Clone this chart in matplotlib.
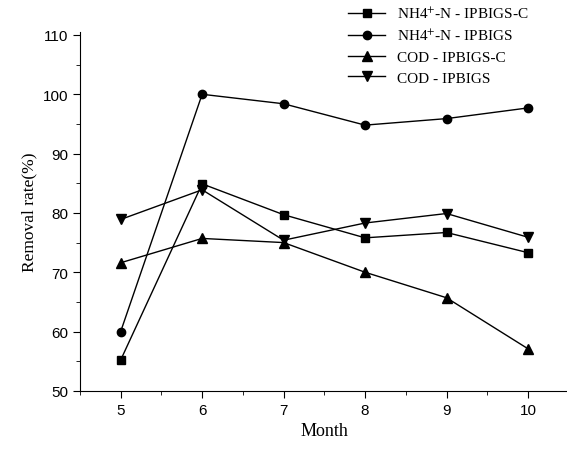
import matplotlib
matplotlib.use("Agg")
import matplotlib.pyplot as plt
from matplotlib.ticker import MultipleLocator

months = [5, 6, 7, 8, 9, 10]
nh4_ipbigs_c = [55.2, 84.9, 79.7, 75.8, 76.7, 73.3]
nh4_ipbigs = [60.0, 100.0, 98.4, 94.8, 95.9, 97.7]
cod_ipbigs_c = [71.6, 75.7, 75.0, 70.0, 65.7, 57.1]
cod_ipbigs = [78.9, 83.9, 75.4, 78.3, 79.9, 75.9]

labels = ["NH4$^{+}$-N - IPBIGS-C", "NH4$^{+}$-N - IPBIGS",
          "COD - IPBIGS-C", "COD - IPBIGS"]

plt.rcParams['mathtext.fontset'] = 'stix'

fig = plt.figure(figsize=(5.67, 4.52), dpi=100)
ax = fig.add_axes([0.141, 0.133, 0.862, 0.794])

series = [(nh4_ipbigs_c, 's', 5.5), (nh4_ipbigs, 'o', 6),
          (cod_ipbigs_c, '^', 6.5), (cod_ipbigs, 'v', 6.5)]
for (vals, mk, ms), lab in zip(series, labels):
    ax.plot(months, vals, color='black', lw=1.0, marker=mk, ms=ms, label=lab)

ax.set_xlim(4.5, 10.5)
ax.set_ylim(50, 110.5)
ax.set_xticks(months)
ax.xaxis.set_minor_locator(MultipleLocator(0.5))
ax.yaxis.set_minor_locator(MultipleLocator(5))
ax.set_yticks([50, 60, 70, 80, 90, 100, 110])
ax.spines['top'].set_visible(False)
ax.spines['right'].set_visible(False)
ax.tick_params(which='major', direction='out', length=5, labelsize=11,
               labelfontfamily='Liberation Sans')
ax.tick_params(which='minor', direction='out', length=3)

ax.set_xlabel("Month", family='Liberation Serif', fontsize=13)
ax.set_ylabel("Removal rate(%)", family='Liberation Serif', fontsize=12.5)

fig.legend(loc='upper left', bbox_to_anchor=(0.59, 1.015), frameon=False,
           prop={'family': 'Liberation Serif', 'size': 11},
           handlelength=2.4, labelspacing=0.45, handletextpad=0.8)

fig.savefig("out.png", dpi=100)
